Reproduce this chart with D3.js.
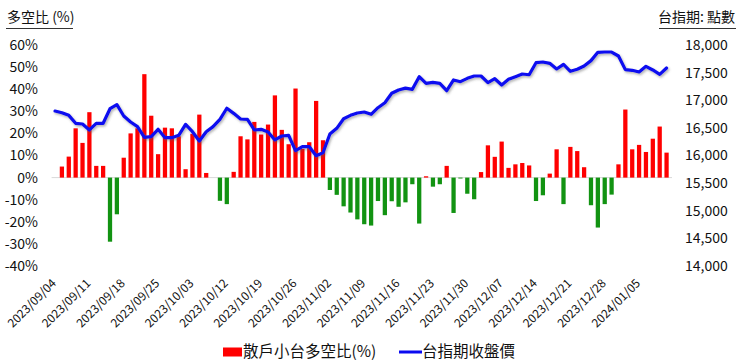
<!DOCTYPE html>
<html>
<head>
<meta charset="utf-8">
<script src="https://cdn.jsdelivr.net/npm/d3@7/dist/d3.min.js"></script>
<style>
  html, body { margin: 0; padding: 0; background: #fff; }
  svg { display: block; font-family: "Noto Sans CJK TC", "Noto Sans", sans-serif; }
</style>
</head>
<body>
<svg id="chart" width="740" height="361"></svg>
<script>
const dates = [
  "2023/09/04","2023/09/05","2023/09/06","2023/09/07","2023/09/08",
  "2023/09/11","2023/09/12","2023/09/13","2023/09/14","2023/09/15",
  "2023/09/18","2023/09/19","2023/09/20","2023/09/21","2023/09/22",
  "2023/09/25","2023/09/26","2023/09/27","2023/09/28","2023/10/02",
  "2023/10/03","2023/10/04","2023/10/05","2023/10/06","2023/10/11",
  "2023/10/12","2023/10/13","2023/10/16","2023/10/17","2023/10/18",
  "2023/10/19","2023/10/20","2023/10/23","2023/10/24","2023/10/25",
  "2023/10/26","2023/10/27","2023/10/30","2023/10/31","2023/11/01",
  "2023/11/02","2023/11/03","2023/11/06","2023/11/07","2023/11/08",
  "2023/11/09","2023/11/10","2023/11/13","2023/11/14","2023/11/15",
  "2023/11/16","2023/11/17","2023/11/20","2023/11/21","2023/11/22",
  "2023/11/23","2023/11/24","2023/11/27","2023/11/28","2023/11/29",
  "2023/11/30","2023/12/01","2023/12/04","2023/12/05","2023/12/06",
  "2023/12/07","2023/12/08","2023/12/11","2023/12/12","2023/12/13",
  "2023/12/14","2023/12/15","2023/12/18","2023/12/19","2023/12/20",
  "2023/12/21","2023/12/22","2023/12/25","2023/12/26","2023/12/27",
  "2023/12/28","2023/12/29","2024/01/02","2024/01/03","2024/01/04",
  "2024/01/05","2024/01/08","2024/01/09","2024/01/10","2024/01/11"
];

// 散戶小台多空比 (%)
const ratio = [
  null, 5.0, 9.5, 22.3, 15.7, 29.6, 5.3, 5.3, -29.0, -16.6,
  9.0, 20.0, 22.3, 46.8, 28.0, 10.6, 22.6, 22.3, 18.7, 3.8,
  19.8, 28.5, 2.1, null, -10.5, -12.0, 2.6, 18.7, 17.3, 25.2,
  19.5, 24.0, 37.2, 21.6, 15.1, 40.3, 13.0, 16.0, 34.7, 16.9,
  -5.6, -7.8, -13.0, -15.8, -18.9, -21.1, -21.7, -10.6, -17.0, -10.7,
  -13.2, -11.2, -3.0, -20.8, 0.6, -4.1, -3.0, 5.3, -16.0, -0.4,
  -7.3, -9.8, 2.5, 14.6, 9.4, 16.3, 4.4, 6.0, 6.6, 5.5,
  -10.6, -8.0, 1.8, 12.8, -12.0, 13.9, 12.0, 4.7, -12.5, -22.6,
  -12.0, -7.7, 6.0, 30.8, 12.8, 14.8, 11.6, 17.6, 23.1, 11.3
];

// 台指期收盤價
const price = [
  16805, 16775, 16727, 16583, 16570, 16462, 16583, 16583, 16847, 16920,
  16715, 16606, 16522, 16329, 16341, 16474, 16323, 16323, 16365, 16564,
  16431, 16262, 16431, 16522, 16655, 16855, 16763, 16661, 16655, 16462,
  16474, 16425, 16281, 16353, 16365, 16087, 16160, 16160, 15997, 16051,
  16389, 16492, 16666, 16727, 16769, 16787, 16745, 16865, 16956, 17126,
  17185, 17220, 17198, 17427, 17306, 17324, 17306, 17173, 17367, 17336,
  17397, 17439, 17439, 17318, 17390, 17276, 17379, 17427, 17475, 17462,
  17680, 17692, 17668, 17566, 17650, 17524, 17560, 17620, 17717, 17867,
  17873, 17873, 17801, 17554, 17542, 17511, 17614, 17548, 17469, 17584
];

const leftTicks = [-40, -30, -20, -10, 0, 10, 20, 30, 40, 50, 60];
const rightTicks = [14000, 14500, 15000, 15500, 16000, 16500, 17000, 17500, 18000];
const xTickLabels = dates.filter((d, i) => i % 5 === 0);

const leftTitle = "多空比 (%)";
const rightTitle = "台指期: 點數";
const barName = "散戶小台多空比(%)";
const lineName = "台指期收盤價";

const svg = d3.select("#chart");

const x = d3.scaleBand().domain(dates).range([51.6, 670]).paddingInner(0.38).paddingOuter(0.19);
const yL = d3.scaleLinear().domain([-40, 60]).range([266, 45]);
const yR = d3.scaleLinear().domain([14000, 18000]).range([266, 45]);

// filter for line shadow
const defs = svg.append("defs");
const f = defs.append("filter").attr("id", "shadow").attr("x", "-5%").attr("y", "-20%").attr("width", "110%").attr("height", "140%");
f.append("feDropShadow").attr("dx", 1.2).attr("dy", 1.6).attr("stdDeviation", 1.1)
  .attr("flood-color", "#555").attr("flood-opacity", 0.45);

// zero line
svg.append("line")
  .attr("x1", x.range()[0]).attr("x2", x.range()[1] + 2)
  .attr("y1", yL(0)).attr("y2", yL(0))
  .attr("stroke", "#d9d9d9").attr("stroke-width", 1);

// bars
svg.append("g").selectAll("rect")
  .data(dates.map((d, i) => ({ d, v: ratio[i] })).filter(o => o.v !== null))
  .join("rect")
  .attr("x", o => x(o.d))
  .attr("width", x.bandwidth())
  .attr("y", o => yL(Math.max(0, o.v)))
  .attr("height", o => Math.abs(yL(o.v) - yL(0)))
  .attr("fill", o => o.v >= 0 ? "#ff0000" : "#129312");

// line
const line = d3.line()
  .x((d, i) => x(dates[i]) + x.bandwidth() / 2)
  .y(d => yR(d));
svg.append("path")
  .datum(price)
  .attr("d", line)
  .attr("fill", "none")
  .attr("stroke", "#0a0af0")
  .attr("stroke-width", 3.2)
  .attr("stroke-linejoin", "round")
  .attr("stroke-linecap", "round")
  .attr("filter", "url(#shadow)");

// left axis
const gL = svg.append("g").attr("transform", "translate(38,0)")
  .call(d3.axisLeft(yL).tickValues(leftTicks).tickFormat(d => d + "%").tickSize(0).tickPadding(0));
gL.select(".domain").remove();
gL.selectAll("text").attr("font-size", 14).attr("fill", "#111").attr("font-family", "\"Noto Sans CJK TC\", sans-serif");

// right axis
const gR = svg.append("g").attr("transform", "translate(685,0)")
  .call(d3.axisRight(yR).tickValues(rightTicks).tickFormat(d3.format(",")).tickSize(0).tickPadding(0));
gR.select(".domain").remove();
gR.selectAll("text").attr("font-size", 14).attr("fill", "#111").attr("font-family", "\"Noto Sans CJK TC\", sans-serif");

// bottom axis (rotated labels)
const gB = svg.append("g").attr("transform", "translate(0,0)")
  .call(d3.axisBottom(x).tickValues(xTickLabels).tickSize(0).tickPadding(0));
gB.select(".domain").remove();
gB.selectAll(".tick").attr("transform", d => `translate(${x(d) + x.bandwidth() / 2 + 2},284)`);
gB.selectAll("text")
  .attr("x", 0).attr("y", 0).attr("dy", 0)
  .attr("text-anchor", "end")
  .attr("transform", "rotate(-45)")
  .attr("font-size", 12)
  .attr("fill", "#111")
  .attr("font-family", "\"Noto Sans CJK TC\", sans-serif");

// titles
svg.append("text").attr("x", 7).attr("y", 22).attr("font-size", 14).attr("fill", "#111").text(leftTitle);
svg.append("line").attr("x1", 6).attr("x2", 73).attr("y1", 28.5).attr("y2", 28.5).attr("stroke", "#333").attr("stroke-width", 1);
svg.append("text").attr("x", 735).attr("y", 22).attr("text-anchor", "end").attr("font-size", 14).attr("fill", "#111").text(rightTitle);
svg.append("line").attr("x1", 659).attr("x2", 736).attr("y1", 28.5).attr("y2", 28.5).attr("stroke", "#333").attr("stroke-width", 1);

// legend
const lg = svg.append("g");
lg.append("rect").attr("x", 223).attr("y", 347.5).attr("width", 19).attr("height", 9).attr("fill", "#ff0000");
lg.append("text").attr("x", 243).attr("y", 352).attr("dy", "0.35em").attr("font-size", 15.5).attr("fill", "#111").text(barName);
lg.append("line").attr("x1", 399).attr("x2", 422).attr("y1", 352).attr("y2", 352).attr("stroke", "#0a0af0").attr("stroke-width", 3);
lg.append("text").attr("x", 422).attr("y", 352).attr("dy", "0.35em").attr("font-size", 15.5).attr("fill", "#111").text(lineName);
</script>
</body>
</html>
